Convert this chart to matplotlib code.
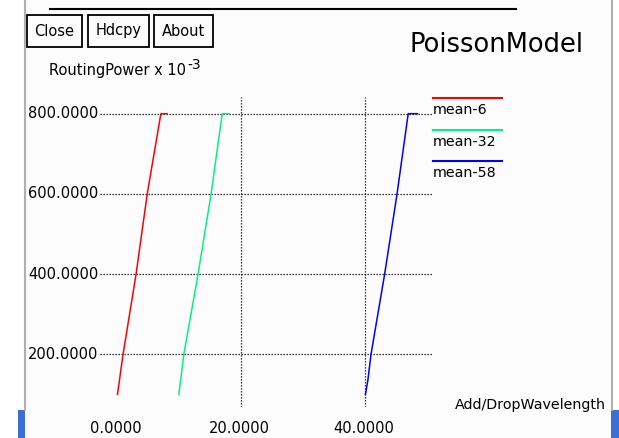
import matplotlib.pyplot as plt
from matplotlib.patches import Rectangle
from matplotlib.lines import Line2D

# data (x = Add/DropWavelength, y = RoutingPower x 10^-3)
red_x = [0.0, 0.9, 3.0, 4.8, 7.0, 8.0]
red_y = [100, 200, 400, 600, 800, 800]
green_x = [9.9, 10.7, 13.0, 15.1, 16.9, 18.0]
green_y = [100, 200, 400, 600, 800, 800]
blue_x = [40.0, 40.4, 40.9, 43.1, 45.1, 46.9, 48.4]
blue_y = [100, 136, 200, 400, 600, 800, 800]

series_names = ['mean-6', 'mean-32', 'mean-58']
series_colors = ['#ff0000', '#00f57a', '#0000ff']
x_ticks = [0, 20, 40]
y_ticks = [200, 400, 600, 800]
buttons = ['Close', 'Hdcpy', 'About']

W, H = 619, 438
fig = plt.figure(figsize=(W / 100, H / 100), dpi=100)
fig.patch.set_facecolor('white')


def fx(px):
    return px / W


def fy(py):
    return 1 - py / H


# panel background and window edges
fig.patches.append(Rectangle((fx(25), 0), fx(612) - fx(25), 1, transform=fig.transFigure,
                             facecolor='#fcfcfc', edgecolor='none', zorder=-5))
fig.add_artist(Line2D([fx(25), fx(25)], [fy(0), fy(410)], color='#b0b0b0', lw=1.5))
fig.add_artist(Line2D([fx(612), fx(612)], [fy(0), fy(410)], color='#b0b0b0', lw=1.5))
fig.add_artist(Line2D([fx(50), fx(516)], [fy(9), fy(9)], color='black', lw=1.5))
fig.patches.append(Rectangle((fx(18), 0), fx(7), fy(410), transform=fig.transFigure,
                             facecolor='#3b6fd8', edgecolor='none'))
fig.patches.append(Rectangle((fx(611), 0), fx(8), fy(410), transform=fig.transFigure,
                             facecolor='#3b6fd8', edgecolor='none'))

# buttons
btn_x = [(27, 82), (88, 149), (154, 213)]
for name, (x0, x1) in zip(buttons, btn_x):
    fig.patches.append(Rectangle((fx(x0), fy(47)), fx(x1 - x0), (47 - 15) / H,
                                 transform=fig.transFigure, facecolor='none',
                                 edgecolor='black', lw=1.3))
    fig.text(fx((x0 + x1) / 2), fy(31), name, ha='center', va='center', fontsize=10.5)

fig.text(fx(583), fy(45), 'PoissonModel', ha='right', va='center', fontsize=18.5)
fig.text(fx(49), fy(70), 'RoutingPower x 10', ha='left', va='center', fontsize=10.5)
fig.text(fx(187), fy(65), '-3', ha='left', va='center', fontsize=10)
fig.text(fx(606), fy(405), 'Add/DropWavelength', ha='right', va='center', fontsize=10.3)

# plot area
ax = fig.add_axes([fx(100), fy(407), fx(433) - fx(100), (407 - 97) / H])
ax.set_facecolor('none')
ax.set_zorder(2)
for s in ax.spines.values():
    s.set_visible(False)
ax.set_xlim(-2.82, 50.9)
ax.set_ylim(68.6, 841.6)
ax.set_xticks([])
ax.set_yticks([])

dots = (0, (1, 1.4))
for t in x_ticks[1:]:
    ax.axvline(t, color='black', lw=0.9, ls=dots, zorder=1)
for t in y_ticks:
    ax.axhline(t, color='black', lw=0.9, ls=dots, zorder=1)

for xs, ys, c in zip([red_x, green_x, blue_x], [red_y, green_y, blue_y], series_colors):
    ax.plot(xs, ys, color=c, lw=1.1, zorder=2)

# tick labels
for t in y_ticks:
    ax.text(-3.1, t, f'{t:.4f}', ha='right', va='center', fontsize=10.5, clip_on=False)
for t in x_ticks:
    ax.text(t - 0.3, 16, f'{t:.4f}', ha='center', va='center', fontsize=10.5, clip_on=False)

# legend
leg_y = [98, 130, 161]
for name, c, ly in zip(series_names, series_colors, leg_y):
    fig.add_artist(Line2D([fx(433), fx(502)], [fy(ly), fy(ly)], color=c, lw=1.5))
    fig.text(fx(433), fy(ly + 12), name, ha='left', va='center', fontsize=10.3)

fig.savefig('out.png', dpi=100)
